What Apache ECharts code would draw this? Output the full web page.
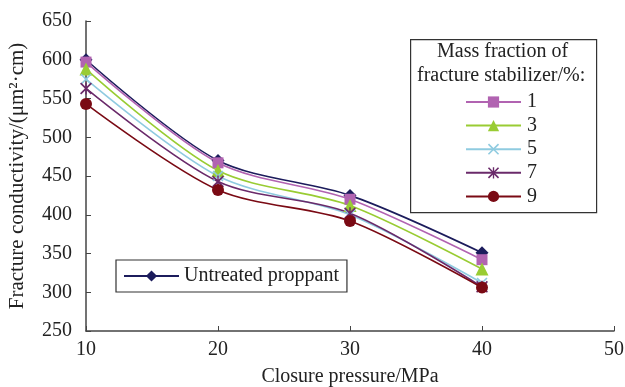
<!DOCTYPE html>
<html><head><meta charset="utf-8">
<script src="https://cdn.jsdelivr.net/npm/echarts@6/dist/echarts.min.js"></script>
<style>html,body{margin:0;padding:0;background:#fff}#c{width:625px;height:387px}</style>
</head><body><div id="c"></div>
<script>
var pressures = [10, 20, 30, 40];
var untreated = [600, 470, 425, 351];
var frac1 = [597, 467, 420, 342];
var frac3 = [588, 457, 412, 330];
var frac5 = [575, 450, 400, 312];
var frac7 = [563, 443, 402, 307];
var frac9 = [543, 432, 392, 306];
var seriesNames = ['1', '3', '5', '7', '9'];
var xTicks = [10, 20, 30, 40, 50];
var yTicks = [250, 300, 350, 400, 450, 500, 550, 600, 650];

var FONT = 'Liberation Serif';
var crossPath = 'path://M0,1 L1,0 L5,4 L9,0 L10,1 L6,5 L10,9 L9,10 L5,6 L1,10 L0,9 L4,5 Z';
var starPath = 'path://M0,1 L1,0 L5,4 L9,0 L10,1 L6,5 L10,9 L9,10 L5,6 L1,10 L0,9 L4,5 Z M4.4,0 L5.6,0 L5.6,10 L4.4,10 Z';

function pts(arr){ return pressures.map(function(p,i){ return [p, arr[i]]; }); }
function mk(name, arr, color, symbol, size){
  return {
    name: name, type: 'line', data: pts(arr), smooth: 0.3,
    symbol: symbol, symbolSize: size,
    lineStyle: {color: color, width: 1.6},
    itemStyle: {color: color},
    z: 2
  };
}
var chart = echarts.init(document.getElementById('c'));
chart.setOption({
  animation: false,
  backgroundColor: '#fff',
  grid: {left: 86, right: 11, top: 21, bottom: 56, containLabel: false, outerBoundsMode: 'none'},
  xAxis: {
    type: 'value', min: xTicks[0], max: xTicks[xTicks.length-1], interval: 10,
    name: 'Closure pressure/MPa', nameLocation: 'middle', nameGap: 36,
    nameTextStyle: {fontFamily: FONT, fontSize: 20, color: '#222'},
    axisLine: {lineStyle: {color: '#444', width: 1.5}},
    axisTick: {inside: true, length: 5, lineStyle: {color: '#444'}},
    axisLabel: {fontFamily: FONT, fontSize: 20, color: '#222', margin: 9},
    splitLine: {show: false}
  },
  yAxis: {
    type: 'value', min: yTicks[0], max: yTicks[yTicks.length-1], interval: 50,
    name: 'Fracture conductivity/(μm²·cm)', nameLocation: 'middle', nameGap: 58,
    nameTextStyle: {fontFamily: FONT, fontSize: 21, color: '#222'},
    axisLine: {show: true, lineStyle: {color: '#444', width: 1.5}},
    axisTick: {show: true, inside: true, length: 5, lineStyle: {color: '#444'}},
    axisLabel: {fontFamily: FONT, fontSize: 20, color: '#222', margin: 14},
    splitLine: {show: false}
  },
  graphic: [
    {type: 'rect', left: 410, top: 39, shape: {width: 186, height: 173},
     style: {fill: '#fff', stroke: '#333', lineWidth: 1.2}, z: 10},
    {type: 'text', left: 437, top: 42, z: 11,
     style: {text: 'Mass fraction of', fontFamily: FONT, fontSize: 20, fill: '#222'}},
    {type: 'text', left: 417, top: 66, z: 11,
     style: {text: 'fracture stabilizer/%:', fontFamily: FONT, fontSize: 20, fill: '#222'}}
  ],
  legend: [
    {
      data: seriesNames, orient: 'vertical', left: 465, top: 92,
      itemWidth: 55, itemHeight: 14, itemGap: 3.6, z: 12,
      textStyle: {fontFamily: FONT, fontSize: 20, color: '#222', padding: [0,0,0,1]},
      padding: 0
    },
    {
      data: ['Untreated proppant'], left: 116, top: 260,
      itemWidth: 55, itemHeight: 14, itemGap: 0,
      borderColor: '#333', borderWidth: 1.2, padding: [6, 8, 6, 7],
      backgroundColor: '#fff',
      textStyle: {fontFamily: FONT, fontSize: 20, lineHeight: 16, color: '#222'}
    }
  ],
  series: [
    mk('Untreated proppant', untreated, '#1c1c5c', 'diamond', 13),
    mk('1', frac1, '#b163b1', 'rect', 11),
    mk('3', frac3, '#99cc33', 'triangle', 13),
    mk('5', frac5, '#8fcbe0', crossPath, 11),
    mk('7', frac7, '#6a2a6a', starPath, 12),
    mk('9', frac9, '#7a0a14', 'circle', 12)
  ]
});
</script></body></html>
